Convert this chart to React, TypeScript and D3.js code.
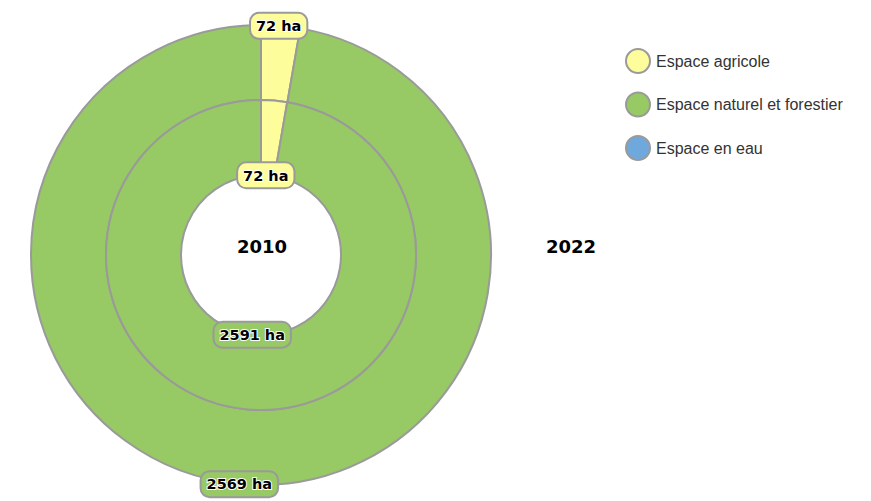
import React, { useEffect, useRef } from "react";
import * as d3 from "d3";

const categories = ["Espace agricole", "Espace naturel et forestier", "Espace en eau"];
const colors = ["#fdfd9b", "#97c964", "#6fa8dc"];
const values2010 = [72, 2591, 0];
const values2022 = [72, 2569, 0];
const years = ["2010", "2022"];

const App: React.FC = () => {
  const ref = useRef<SVGSVGElement>(null);

  useEffect(() => {
    if (!ref.current) return;
    const svg = d3.select(ref.current);
    svg.selectAll("*").remove();

    const width = 871;
    const height = 501;
    svg.attr("width", width).attr("height", height);

    const cx = 261;
    const cy = 255;
    const stroke = "#9a9a9a";

    const pie = d3.pie<number>().sort(null).value((d) => d);
    const color = d3.scaleOrdinal<number, string>().domain([0, 1, 2]).range(colors);

    const rings = [
      { year: years[0], values: values2010, inner: 80, outer: 155, labelR: 80 },
      { year: years[1], values: values2022, inner: 155, outer: 230, labelR: 230 },
    ];

    const g = svg.append("g").attr("transform", `translate(${cx},${cy})`);

    // slices, outer ring first so the inner one sits on top
    rings.slice().reverse().forEach((ring) => {
      const arc = d3.arc<d3.PieArcDatum<number>>().innerRadius(ring.inner).outerRadius(ring.outer);
      g.append("g")
        .selectAll("path")
        .data(pie(ring.values).filter((d) => d.value > 0))
        .enter().append("path")
        .attr("d", arc)
        .attr("fill", (d) => color(d.index))
        .attr("stroke", stroke)
        .attr("stroke-width", 2)
        .attr("stroke-linejoin", "round");
    });

    // value labels
    rings.forEach((ring) => {
      const labelArc = d3.arc<d3.PieArcDatum<number>>().innerRadius(ring.labelR).outerRadius(ring.labelR);
      pie(ring.values).filter((d) => d.value > 0).forEach((d) => {
        const [x, y] = labelArc.centroid(d);
        const lg = g.append("g").attr("transform", `translate(${x - 2},${y})`);
        const rect = lg.append("rect");
        const txt = lg.append("text")
          .attr("text-anchor", "middle")
          .attr("dy", "0.36em")
          .attr("font-family", "'DejaVu Sans', Verdana, sans-serif")
          .attr("font-weight", "bold")
          .attr("font-size", 14.5)
          .attr("fill", "#000")
          .attr("stroke", "#fff")
          .attr("stroke-width", 2)
          .attr("paint-order", "stroke")
          .text(`${d.value} ha`);
        const w = (txt.node() as SVGTextElement).getComputedTextLength() + 12;
        rect.attr("x", -w / 2).attr("y", -13).attr("width", w).attr("height", 26)
          .attr("rx", 9)
          .attr("fill", color(d.index))
          .attr("stroke", stroke)
          .attr("stroke-width", 2);
      });
    });

    // year labels
    const yearPos = [cx + 1, cx + 310];
    years.forEach((yr, i) => {
      svg.append("text")
        .attr("x", yearPos[i])
        .attr("y", 253)
        .attr("text-anchor", "middle")
        .attr("font-family", "'DejaVu Sans', Verdana, sans-serif")
        .attr("font-weight", "bold")
        .attr("font-size", 18)
        .attr("fill", "#000")
        .text(yr);
    });

    // legend
    const legend = svg.append("g").attr("transform", "translate(638,61)");
    const item = legend.selectAll("g")
      .data(categories)
      .enter().append("g")
      .attr("transform", (d, i) => `translate(0,${i * 43.5})`);
    item.append("circle")
      .attr("r", 12)
      .attr("fill", (d, i) => color(i))
      .attr("stroke", stroke)
      .attr("stroke-width", 2);
    item.append("text")
      .attr("x", 18)
      .attr("y", 5.5)
      .attr("font-family", "'Liberation Sans', Arial, sans-serif")
      .attr("font-size", 16)
      .attr("fill", "#333")
      .text((d) => d);
  }, []);

  return <svg ref={ref} style={{ position: "absolute", left: 0, top: 0 }}></svg>;
};

export default App;
